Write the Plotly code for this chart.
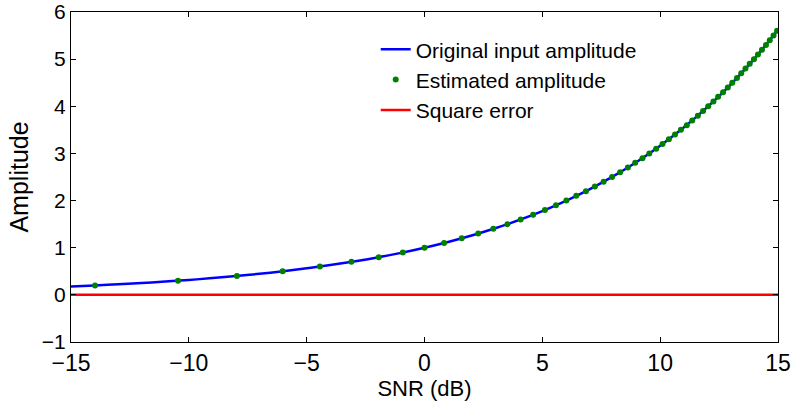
import plotly.graph_objects as go

# Original input amplitude curve (SNR dB -> amplitude)
orig_snr = [-15, -14, -13, -12, -11, -10, -9, -8, -7, -6, -5, -4, -3, -2, -1, 0,
            1, 2, 3, 4, 5, 6, 7, 8, 9, 10, 11, 12, 13, 14, 15]
orig_amp = [0.178, 0.200, 0.224, 0.251, 0.282, 0.316, 0.355, 0.398, 0.447, 0.501,
            0.562, 0.631, 0.708, 0.794, 0.891, 1.000, 1.122, 1.259, 1.413, 1.585,
            1.778, 1.995, 2.239, 2.512, 2.818, 3.162, 3.548, 3.981, 4.467, 5.012, 5.623]

# Estimated amplitude points
est_snr = [-13.98, -10.46, -7.96, -6.02, -4.44, -3.10, -1.94, -0.92, 0.00, 0.83,
           1.58, 2.28, 2.92, 3.52, 4.08, 4.61, 5.11, 5.58, 6.02, 6.44,
           6.85, 7.23, 7.60, 7.96, 8.30, 8.63, 8.94, 9.25, 9.54, 9.83,
           10.10, 10.37, 10.63, 10.88, 11.13, 11.36, 11.60, 11.82, 12.04, 12.26,
           12.46, 12.67, 12.87, 13.06, 13.26, 13.44, 13.62, 13.80, 13.98, 14.15,
           14.32, 14.49, 14.65, 14.81, 14.96]
est_amp = [0.2, 0.3, 0.4, 0.5, 0.6, 0.7, 0.8, 0.9, 1.0, 1.1,
           1.2, 1.3, 1.4, 1.5, 1.6, 1.7, 1.8, 1.9, 2.0, 2.1,
           2.2, 2.3, 2.4, 2.5, 2.6, 2.7, 2.8, 2.9, 3.0, 3.1,
           3.2, 3.3, 3.4, 3.5, 3.6, 3.7, 3.8, 3.9, 4.0, 4.1,
           4.2, 4.3, 4.4, 4.5, 4.6, 4.7, 4.8, 4.9, 5.0, 5.1,
           5.2, 5.3, 5.4, 5.5, 5.6]

# Square error
err_snr = [-15, 15]
err_val = [0, 0]

x_ticks = [-15, -10, -5, 0, 5, 10, 15]
y_ticks = [-1, 0, 1, 2, 3, 4, 5, 6]

fig = go.Figure()
fig.add_trace(go.Scatter(x=orig_snr, y=orig_amp, mode="lines", line_shape="spline",
                         line=dict(color="#0000ff", width=2.5),
                         name="Original input amplitude"))
fig.add_trace(go.Scatter(x=est_snr, y=est_amp, mode="markers",
                         marker=dict(color="#008000", size=6),
                         name="Estimated amplitude"))
fig.add_trace(go.Scatter(x=err_snr, y=err_val, mode="lines",
                         line=dict(color="#ff0000", width=2.5),
                         name="Square error"))

axis_common = dict(showgrid=False, zeroline=False, showline=True, mirror="ticks",
                   linecolor="black", linewidth=1, ticks="inside", ticklen=5,
                   tickcolor="black", automargin=False)

fig.update_layout(
    width=791, height=402,
    margin=dict(l=71, r=13, t=12, b=60),
    paper_bgcolor="white", plot_bgcolor="white",
    font=dict(family="Liberation Sans, Arial, sans-serif", color="black"),
    xaxis=dict(range=[-15, 15], tickvals=x_ticks,
               tickfont=dict(size=23, color="black"),
               title=dict(text="SNR (dB)", font=dict(size=22), standoff=0),
               **axis_common),
    yaxis=dict(range=[-1, 6], tickvals=y_ticks,
               tickfont=dict(size=21, color="black"),
               title=dict(text="Amplitude", font=dict(size=25), standoff=6),
               **axis_common),
    legend=dict(x=0.431, y=0.948, xanchor="left", yanchor="top",
                bgcolor="rgba(0,0,0,0)", font=dict(size=21), tracegroupgap=0),
    showlegend=True,
)

fig.write_html("out.html")
